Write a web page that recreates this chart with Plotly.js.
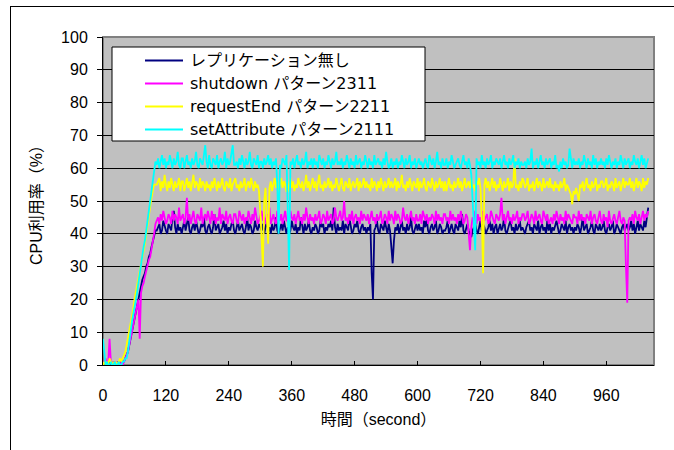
<!DOCTYPE html>
<html>
<head>
<meta charset="utf-8">
<script src="https://cdn.plot.ly/plotly-3.0.1.min.js"></script>
<style>
html,body{margin:0;padding:0;background:#fff;}
#wrap{position:relative;width:674px;height:450px;}
#chart{position:absolute;left:0;top:0;width:674px;height:450px;}
#frame{position:absolute;left:10px;top:6px;width:670px;height:450px;border-left:1px solid #000;border-top:1px solid #000;pointer-events:none;}
</style>
</head>
<body>
<div id="wrap"><div id="chart"></div><div id="frame"></div></div>
<script>
// samples are taken every 2.5 seconds starting at 0 s
var sampleStart = 0;
var sampleStep = 2.5;

var seriesNames = ['レプリケーション無し','shutdown パターン2311','requestEnd パターン2211','setAttribute パターン2111'];

var noReplication = [
0,1,0,1,0,1,0,0,1,0, 0,1,0,1,0,1,1,2,3,4, 6,8,10,12,14,17,19,20,22,24, 26,27,28,30,31,33,34,36,38,40, 41,
41,42,43,40,41,44,42,41,40,43,42,41,45,47,42,40,43,41,42,40,
42,44,41,43,45,41,40,42,43,41,44,42,40,41,43,42,45,41,40,42,
43,41,40,42,46,41,42,43,40,41,42,44,41,43,40,42,41,43,44,41,
40,42,44,41,42,43,41,40,42,45,41,43,42,40,41,44,42,41,43,42,
41,43,40,42,44,41,42,40,43,41,42,45,41,40,42,43,41,44,42,40,
42,40,41,44,42,41,43,40,42,41,45,42,40,43,41,42,44,41,40,42,
41,43,42,40,41,44,42,43,40,42,41,43,42,44,41,48,42,40,43,41,
42,41,44,40,43,42,41,45,42,40,41,43,42,44,41,40,42,43,41,42,
40,42,41,43,28,20,41,42,44,41,40,43,42,41,44,42,40,43,41,36,
31,38,42,41,43,40,42,44,41,42,40,43,41,42,45,41,40,42,43,41,
43,41,42,40,44,42,45,41,40,42,43,41,42,44,40,41,43,42,40,41,
41,42,44,40,42,43,41,40,43,42,41,44,42,46,41,40,42,43,41,40,
39,41,42,43,41,40,42,44,41,43,42,40,41,42,44,41,43,40,42,43,
40,42,43,41,42,45,41,40,42,43,44,41,42,40,43,41,42,44,41,42,
41,40,42,43,44,41,42,40,43,42,41,44,40,42,43,41,42,40,44,41,
43,40,42,41,43,44,42,40,41,43,42,41,44,40,42,43,41,42,40,42,
41,43,42,40,42,45,41,42,43,40,41,42,44,41,40,43,42,41,43,41,
42,44,41,40,42,43,41,42,44,40,41,43,42,41,40,42,43,41,42,43,
41,42,44,41,43,40,42,44,41,43,42,41,44,42,45,48];

var shutdown2311 = [
0,1,2,0,1,8,1,0,1,0, 1,0,1,0,1,0,1,2,3,4, 6,8,10,12,14,16,18,20,8,22, 24,25,27,29,30,32,33,35,37,40, 43,
44,45,43,46,44,47,45,43,44,46,45,43,47,44,46,45,43,48,44,45,
46,43,45,51,44,46,43,45,47,44,43,46,45,44,48,43,45,46,44,47,
45,43,47,44,46,43,45,44,48,43,46,45,44,47,43,45,46,44,43,46,
46,44,43,47,45,44,46,43,45,44,47,45,43,46,44,48,45,43,44,46,
47,44,45,43,46,44,48,43,45,46,44,43,47,45,44,46,43,45,47,44,
44,43,47,45,44,46,43,45,47,44,45,43,46,44,48,45,43,46,44,45,
43,46,44,45,47,43,44,46,45,43,47,44,45,46,43,44,48,45,44,46,
47,44,45,50,44,45,43,46,44,47,43,45,46,44,45,43,47,44,46,45,
44,46,43,45,47,44,45,43,46,44,45,47,43,44,46,45,43,47,44,46,
45,43,47,44,46,45,43,44,48,45,44,46,43,45,47,44,45,43,46,44,
44,46,43,47,45,44,46,43,45,44,46,45,43,47,44,46,44,45,43,46,
46,44,45,43,47,44,46,44,45,43,46,44,47,45,43,44,46,45,40,35,
42,45,44,47,43,46,44,45,43,47,44,45,46,43,44,47,45,44,43,46,
45,44,46,51,44,46,43,45,47,44,45,43,46,44,45,47,43,45,44,46,
46,44,45,47,43,44,46,45,43,47,44,45,46,44,43,47,45,44,46,43,
44,45,43,46,44,47,45,43,46,44,45,43,47,44,46,45,44,43,46,45,
45,43,47,44,46,44,45,43,46,45,44,47,43,45,46,44,43,45,47,44,
43,46,44,45,42,47,44,43,45,46,44,43,45,47,44,43,45,44,30,19,
44,45,44,46,43,47,45,44,46,43,45,47,44,46,45,47];

var requestEnd2211 = [
0,1,0,1,0,2,1,0,1,0, 1,0,1,2,1,2,3,4,6,8, 10,12,14,17,20,22,24,27,29,31, 33,35,37,40,43,46,48,51,53,55, 55,
55,56,57,53,56,54,58,55,53,56,54,57,55,53,56,54,55,57,53,56,
56,53,55,57,54,56,53,55,58,54,56,55,53,57,54,56,55,53,56,54,
55,53,56,54,57,55,53,56,54,55,57,54,53,56,55,54,57,53,55,56,
57,54,55,53,56,54,55,57,53,55,56,54,57,55,53,56,54,55,53,47,
38,30,50,54,45,37,54,56,53,55,57,54,56,53,55,57,54,56,55,53,
53,55,57,54,56,53,55,54,57,55,54,56,53,55,58,54,56,53,55,57,
54,56,53,55,58,54,55,53,56,54,55,57,54,56,53,55,54,57,55,53,
55,57,54,53,56,55,54,57,53,55,56,54,55,57,53,56,54,55,57,54,
56,54,55,53,57,54,56,55,53,56,54,57,55,53,56,54,55,57,54,56,
54,55,57,53,56,54,55,58,54,55,53,56,54,57,55,53,56,55,54,57,
53,56,54,55,57,54,53,56,55,54,57,55,53,56,54,55,57,54,56,53,
56,53,55,57,54,55,53,56,54,55,57,54,56,53,55,57,54,55,56,54,
57,54,55,53,56,55,57,54,45,28,55,57,54,56,53,55,57,54,56,53,
55,54,57,55,53,56,54,55,57,53,56,54,55,63,54,55,53,56,54,57,
56,54,55,57,53,55,54,56,53,55,57,54,56,55,53,57,54,55,56,54,
57,54,55,53,56,54,55,53,56,54,55,57,53,55,54,53,52,49,53,52,
54,52,50,55,54,56,53,55,57,54,55,53,56,54,55,57,53,55,54,56,
56,54,55,57,53,55,54,56,55,53,57,54,55,56,53,55,57,54,56,55,
55,57,54,56,53,55,57,54,56,55,53,57,54,56,55,57];

var setAttribute2111 = [
8,3,0,1,0,0,1,0,0,1, 0,0,1,0,0,1,1,2,2,4, 8,10,13,15,18,20,22,25,28,30, 33,36,38,41,44,47,49,53,56,59, 62,
61,63,60,62,64,61,63,60,62,61,64,62,60,63,61,62,65,61,60,63,
63,60,62,64,61,62,60,63,61,62,65,61,60,63,62,61,64,67,62,60,
64,61,60,63,62,61,64,60,62,63,61,62,65,60,63,61,62,64,67,61,
61,62,60,63,61,64,62,60,63,61,62,65,61,60,63,62,61,64,60,62,
62,60,63,61,62,64,61,63,60,62,61,63,55,40,61,60,63,62,61,64,
50,29,62,61,63,60,62,64,61,62,60,63,61,62,65,60,62,61,63,60,
63,61,62,60,64,62,61,63,60,62,61,64,62,60,63,61,62,65,61,62,
61,63,60,62,61,64,62,60,63,61,62,60,64,61,62,63,60,62,61,64,
62,60,63,61,62,60,64,61,62,63,61,62,60,63,61,65,62,60,61,63,
60,62,61,63,60,62,61,64,62,60,63,61,62,64,60,62,61,63,60,62,
63,61,62,60,62,63,61,60,64,62,61,63,60,62,65,61,62,60,63,61,
61,63,60,62,61,64,62,60,61,62,63,61,60,62,64,61,62,60,63,61,
58,50,42,35,63,61,62,60,64,61,62,60,63,61,62,64,60,62,61,63,
62,61,63,60,62,64,61,62,60,63,61,62,64,60,62,61,63,60,62,61,
61,62,60,63,61,62,66,60,62,61,63,60,62,64,61,62,60,63,61,62,
63,60,62,61,64,60,61,59,62,60,63,61,62,60,61,66,62,60,63,61,
62,61,63,60,62,61,64,62,60,63,61,62,60,64,61,63,60,62,61,63,
61,62,60,63,61,64,62,60,62,61,63,60,62,61,64,62,60,63,61,62,
63,60,62,61,64,62,61,63,60,62,64,61,63,60,62,63];

var xTickVals = [0,120,240,360,480,600,720,840,960];
var yTickVals = [0,10,20,30,40,50,60,70,80,90,100];
var seriesColors = ['#000080','#FF00FF','#FFFF00','#00FFFF'];

var allSeries = [noReplication, shutdown2311, requestEnd2211, setAttribute2111];
var latin = 'Liberation Sans, Arial, Noto Sans CJK JP, sans-serif';
var legendFont = 'DejaVu Sans, Noto Sans CJK JP, sans-serif';

var traces = allSeries.map(function(vals, k){
  return {x0: sampleStart, dx: sampleStep, y: vals, type:'scatter', mode:'lines', name: seriesNames[k],
          line:{color: seriesColors[k], width:1.8}, showlegend:false, hoverinfo:'skip'};
});

// manual legend (Excel style)
var lx0 = (112-103)/551, lx1 = (425-103)/551;
var ly0 = (365-141)/328, ly1 = (365-47)/328;
var rowsY = [(365-60.5)/328, (365-83.5)/328, (365-106.5)/328, (365-129.5)/328];
var sx0 = (145-103)/551, sx1 = (183-103)/551, tx = (188-103)/551;

var shapes = [
  {type:'rect', xref:'paper', yref:'paper', x0:0, x1:1, y0:0, y1:1, line:{color:'#808080', width:2}, layer:'below'},
  {type:'rect', xref:'paper', yref:'paper', x0:lx0, x1:lx1, y0:ly0, y1:ly1, fillcolor:'#FFFFFF', line:{color:'#000', width:1}, layer:'above'}
];
var annotations = [];
seriesNames.forEach(function(n,k){
  shapes.push({type:'line', xref:'paper', yref:'paper', x0:sx0, x1:sx1, y0:rowsY[k], y1:rowsY[k], line:{color:seriesColors[k], width:2}, layer:'above'});
  annotations.push({xref:'paper', yref:'paper', x:tx, y:rowsY[k], xanchor:'left', yanchor:'middle', showarrow:false, text:n, font:{family:legendFont, size:16, color:'#000'}});
});

var layout = {
  width:674, height:450,
  margin:{l:103, r:20, t:37, b:85},
  paper_bgcolor:'rgba(0,0,0,0)', plot_bgcolor:'#C0C0C0',
  showlegend:false,
  xaxis:{range:[0,1051], tickvals:xTickVals, ticks:'inside', ticklen:4, tickcolor:'#000', tickwidth:1,
         showgrid:false, zeroline:false, showline:true, linecolor:'#000', linewidth:1,
         ticklabelstandoff:16, tickfont:{family:latin, size:16, color:'#000'},
         title:{text:'時間（second）', font:{family:latin, size:16, color:'#000'}, standoff:10}},
  yaxis:{range:[0,100], tickvals:yTickVals, ticks:'outside', ticklen:5, tickcolor:'#000', tickwidth:1,
         showgrid:true, gridcolor:'#000', gridwidth:1, zeroline:false, showline:true, linecolor:'#000', linewidth:1,
         ticklabelstandoff:6, tickfont:{family:latin, size:16, color:'#000'},
         title:{text:'CPU利用率（%）', font:{family:latin, size:16, color:'#000'}, standoff:14}},
  shapes:shapes,
  annotations:annotations
};

Plotly.newPlot('chart', traces, layout, {staticPlot:true, displayModeBar:false});
</script>
</body>
</html>
